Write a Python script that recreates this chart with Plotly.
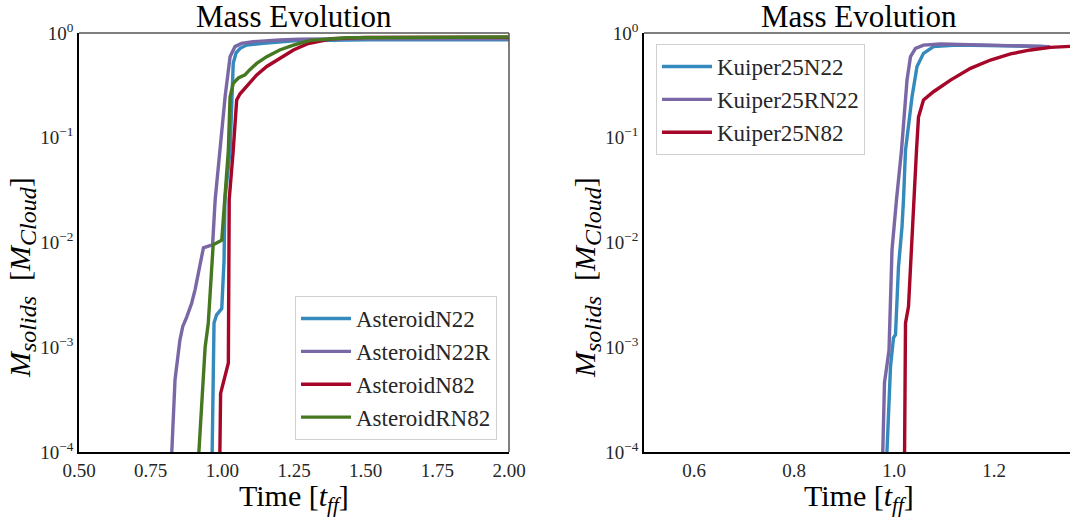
import plotly.graph_objects as go

# ---------------- data (left panel) ----------------
ast_n22_t = [0.964, 0.971, 0.980, 0.998, 1.006, 1.009, 1.027, 1.038, 1.048, 1.062, 1.085, 1.143, 1.25, 1.50, 2.00]
ast_n22_m = [7.9e-5, 1.7e-3, 2.04e-3, 2.34e-3, 6.76e-3, 0.0257, 0.0759, 0.513, 0.646, 0.715, 0.767, 0.798, 0.841, 0.859, 0.859]

ast_n22r_t = [0.822, 0.835, 0.852, 0.862, 0.876, 0.893, 0.905, 0.922, 0.934, 0.954, 0.966, 0.975, 0.992,
              1.010, 1.027, 1.044, 1.067, 1.107, 1.20, 1.27, 1.50, 2.00]
ast_n22r_m = [7.9e-5, 4.9e-4, 1.17e-3, 1.58e-3, 1.95e-3, 2.63e-3, 3.55e-3, 6.3e-3, 8.9e-3, 9.3e-3, 9.5e-3,
              0.0257, 0.0759, 0.251, 0.594, 0.741, 0.796, 0.826, 0.857, 0.871, 0.881, 0.881]

ast_n82_t = [0.991, 0.994, 1.021, 1.024, 1.038, 1.050, 1.062, 1.079, 1.096, 1.120, 1.155, 1.200, 1.248,
             1.300, 1.380, 1.50, 2.00]
ast_n82_m = [7.9e-5, 3.63e-4, 7.08e-4, 0.0257, 0.0759, 0.229, 0.263, 0.295, 0.331, 0.398, 0.479, 0.575,
             0.689, 0.794, 0.881, 0.908, 0.912]

ast_rn82_t = [0.916, 0.940, 0.951, 0.963, 0.968, 0.998, 1.003, 1.009, 1.021, 1.027, 1.038, 1.056, 1.079,
              1.096, 1.120, 1.155, 1.200, 1.248, 1.306, 1.434, 2.00]
ast_rn82_m = [7.9e-5, 1.0e-3, 1.7e-3, 5.9e-3, 9.5e-3, 0.0105, 0.0162, 0.0257, 0.0759, 0.245, 0.331, 0.372,
              0.398, 0.447, 0.513, 0.594, 0.689, 0.767, 0.851, 0.902, 0.916]

# ---------------- data (right panel) ----------------
kui_n22_t = [0.985, 0.993, 0.999, 1.003, 1.009, 1.016, 1.019, 1.023, 1.036, 1.046, 1.059, 1.079, 1.126, 1.20, 1.298]
kui_n22_m = [7.9e-5, 6.5e-4, 1.23e-3, 1.32e-3, 5.9e-3, 0.0141, 0.0257, 0.0759, 0.245, 0.479, 0.640, 0.741,
             0.767, 0.760, 0.745]

kui_rn22_t = [0.977, 0.981, 0.990, 0.996, 1.005, 1.015, 1.026, 1.033, 1.043, 1.059, 1.093, 1.20, 1.312]
kui_rn22_m = [7.9e-5, 4.6e-4, 9.3e-4, 8.5e-3, 0.0257, 0.0759, 0.355, 0.594, 0.714, 0.767, 0.785, 0.767, 0.741]

kui_n82_t = [1.021, 1.023, 1.029, 1.039, 1.045, 1.049, 1.059, 1.079, 1.113, 1.153, 1.193, 1.233, 1.273,
             1.313, 1.352, 1.40]
kui_n82_m = [7.9e-5, 1.7e-3, 2.45e-3, 0.0257, 0.0759, 0.158, 0.229, 0.275, 0.355, 0.460, 0.552, 0.631,
             0.689, 0.730, 0.752, 0.765]

y_tickvals = [1e-4, 1e-3, 1e-2, 1e-1, 1]
y_ticktext = ["10<sup>−4</sup>", "10<sup>−3</sup>", "10<sup>−2</sup>", "10<sup>−1</sup>", "10<sup>0</sup>"]
left_xticks = [0.50, 0.75, 1.00, 1.25, 1.50, 1.75, 2.00]
left_xtext = ["0.50", "0.75", "1.00", "1.25", "1.50", "1.75", "2.00"]
right_xticks = [0.6, 0.8, 1.0, 1.2]
right_xtext = ["0.6", "0.8", "1.0", "1.2"]

BLUE, PURPLE, RED, GREEN = "#348ABD", "#7A68A6", "#A60628", "#467821"
FONT = "Liberation Serif"
TXT = "#262626"

W, H = 1070, 520
L1, R1 = 79, 509
L2, R2 = 644, 1070
TOP, BOT = 33, 452

fig = go.Figure()

def add(x, y, name, color, xa, ya, legend):
    fig.add_trace(go.Scatter(x=x, y=y, name=name, mode="lines",
                             line=dict(color=color, width=3.4),
                             xaxis=xa, yaxis=ya, legend=legend))

add(ast_n22_t, ast_n22_m, "AsteroidN22", BLUE, "x", "y", "legend")
add(ast_n22r_t, ast_n22r_m, "AsteroidN22R", PURPLE, "x", "y", "legend")
add(ast_n82_t, ast_n82_m, "AsteroidN82", RED, "x", "y", "legend")
add(ast_rn82_t, ast_rn82_m, "AsteroidRN82", GREEN, "x", "y", "legend")

add(kui_n22_t, kui_n22_m, "Kuiper25N22", BLUE, "x2", "y2", "legend2")
add(kui_rn22_t, kui_rn22_m, "Kuiper25RN22", PURPLE, "x2", "y2", "legend2")
add(kui_n82_t, kui_n82_m, "Kuiper25N82", RED, "x2", "y2", "legend2")

ydom = [1 - BOT / H, 1 - TOP / H]
axis_common = dict(showgrid=False, zeroline=False, ticks="", showline=True, linecolor="black",
                   linewidth=1.5, automargin=False, tickfont=dict(family=FONT, size=19, color=TXT))

fig.update_layout(
    width=W, height=H,
    margin=dict(l=0, r=0, t=0, b=0, autoexpand=False),
    paper_bgcolor="white", plot_bgcolor="white",
    font=dict(family=FONT, color=TXT),
    xaxis=dict(domain=[L1 / W, R1 / W], range=[0.5, 2.0], tickvals=left_xticks, ticktext=left_xtext,
               anchor="y", **axis_common),
    yaxis=dict(domain=ydom, type="log", range=[-4, 0], tickvals=y_tickvals, ticktext=y_ticktext,
               anchor="x", **axis_common),
    xaxis2=dict(domain=[L2 / W, R2 / W], range=[0.5, 0.5 + (R2 - L2) / 500.0], tickvals=right_xticks,
                ticktext=right_xtext, anchor="y2", **axis_common),
    yaxis2=dict(domain=ydom, type="log", range=[-4, 0], tickvals=y_tickvals, ticktext=y_ticktext,
                anchor="x2", **axis_common),
    legend=dict(x=497 / W, y=1 - 440 / H, xanchor="right", yanchor="bottom",
                bgcolor="white", bordercolor="#d0d0d0", borderwidth=1,
                font=dict(family=FONT, size=23, color=TXT), itemwidth=50, tracegroupgap=0),
    legend2=dict(x=656 / W, y=1 - 44 / H, xanchor="left", yanchor="top",
                 bgcolor="white", bordercolor="#d0d0d0", borderwidth=1,
                 font=dict(family=FONT, size=23, color=TXT), itemwidth=50, tracegroupgap=0),
    showlegend=True,
)

# top / right frame lines (lighter, like matplotlib spines)
fig.add_shape(type="line", xref="paper", yref="paper", x0=L1 / W, x1=R1 / W, y0=ydom[1], y1=ydom[1],
              line=dict(color="#555555", width=1.5))
fig.add_shape(type="line", xref="paper", yref="paper", x0=R1 / W, x1=R1 / W, y0=ydom[0], y1=ydom[1],
              line=dict(color="#555555", width=1.5))
fig.add_shape(type="line", xref="paper", yref="paper", x0=L2 / W, x1=1.0, y0=ydom[1], y1=ydom[1],
              line=dict(color="#555555", width=1.5))

# titles and axis labels
for cx in [(L1 + R1) / 2, (L2 + 1074) / 2]:
    fig.add_annotation(text="Mass Evolution", x=cx / W, y=1 - 17 / H, xref="paper", yref="paper",
                       showarrow=False, font=dict(family=FONT, size=31, color="black"),
                       xanchor="center", yanchor="middle")
    fig.add_annotation(text="Time [<i>t</i><sub><i>ff</i></sub>]", x=cx / W, y=1 - 498 / H,
                       xref="paper", yref="paper", showarrow=False,
                       font=dict(family=FONT, size=30, color="black"), xanchor="center", yanchor="middle")

ylab = ("<i>M</i><sub><i><span style='font-size:24px'>solids</span></i></sub>  "
        "[<i>M</i><sub><i><span style='font-size:24px'>Cloud</span></i></sub>]")
for lx in [22, 587]:
    fig.add_annotation(text=ylab, x=lx / W, y=1 - 278 / H, xref="paper", yref="paper", showarrow=False,
                       textangle=-90, font=dict(family=FONT, size=30, color="black"),
                       xanchor="center", yanchor="middle")

fig.write_html("out.html", config={"displayModeBar": False},
               post_script="document.body.style.margin='0';document.body.style.overflow='hidden';")
